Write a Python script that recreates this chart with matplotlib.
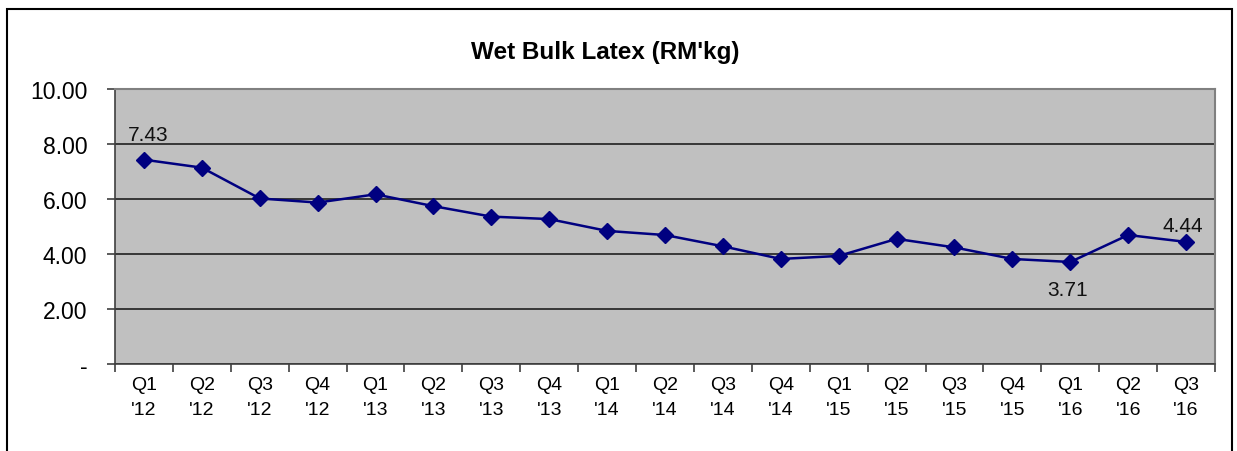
import numpy as np
import matplotlib
matplotlib.use("Agg")
from matplotlib import pyplot as plt
from matplotlib.patches import Rectangle

plt.rcParams['font.family'] = ['Liberation Sans', 'DejaVu Sans']

quarters = ["Q1", "Q2", "Q3", "Q4", "Q1", "Q2", "Q3", "Q4", "Q1", "Q2",
            "Q3", "Q4", "Q1", "Q2", "Q3", "Q4", "Q1", "Q2", "Q3"]
years = ["'12", "'12", "'12", "'12", "'13", "'13", "'13", "'13", "'14", "'14",
         "'14", "'14", "'15", "'15", "'15", "'15", "'16", "'16", "'16"]
price = [7.43, 7.14, 6.02, 5.87, 6.17, 5.74, 5.36, 5.27, 4.84, 4.69,
         4.28, 3.82, 3.93, 4.55, 4.24, 3.82, 3.71, 4.69, 4.44]
labelled = {0: "7.43", 16: "3.71", 18: "4.44"}

fig = plt.figure(figsize=(12.37, 4.52), dpi=100)
W, H = 1237, 452
ax = fig.add_axes([115 / W, 1 - 365 / H, (1215 - 115) / W, (365 - 90) / H])

# outer chart frame
fig.patches.append(Rectangle((7 / W, -0.05), (1232 - 7) / W, 1 - 10 / H + 0.05,
                             transform=fig.transFigure, fill=False,
                             edgecolor='black', linewidth=1.5))

x = np.arange(len(price))
ax.set_facecolor('#c0c0c0')
ax.plot(x, price, color='#000080', linewidth=1.8, marker='D', markersize=8,
        markerfacecolor='#000080', markeredgecolor='#000080', zorder=3)

# offsets of the data labels (points)
offs = {0: (3, 11, 'bottom'), 16: (-2, -13, 'top'), 18: (-2, 5, 'bottom')}
for i, txt in labelled.items():
    dx, dy, va = offs[i]
    ax.annotate(txt, (x[i], price[i]), xytext=(dx, dy), textcoords='offset points',
                ha='center', va=va, fontsize=15, color='#111111')

ax.set_xlim(-0.5, len(price) - 0.5)
ax.set_ylim(0, 10)
ax.set_yticks([0, 2, 4, 6, 8, 10])
ax.set_yticklabels(["-", "2.00", "4.00", "6.00", "8.00", "10.00"], fontsize=16.5)
ax.yaxis.grid(True, color='#202020', linewidth=1.2)
ax.set_axisbelow(True)

ax.set_xticks(x)
ax.set_xticklabels([q + "\n" + y for q, y in zip(quarters, years)], fontsize=14,
                   linespacing=1.55)
ax.set_xticks(np.arange(-0.5, len(price)), minor=True)
ax.tick_params(axis='x', which='major', length=0, pad=9)
ax.tick_params(axis='x', which='minor', length=6, width=1.2, color='#404040')
ax.tick_params(axis='y', length=6, width=1.2, color='#404040', pad=14)

for side in ['top', 'right']:
    ax.spines[side].set_color('#808080')
    ax.spines[side].set_linewidth(1.5)
ax.spines['left'].set_color('#404040')
ax.spines['bottom'].set_color('#404040')
ax.spines['left'].set_linewidth(1.2)
ax.spines['bottom'].set_linewidth(1.2)

fig.text(605 / W, 1 - 53 / H, "Wet Bulk Latex (RM'kg)", ha='center',
         va='center', fontsize=17.5, fontweight='bold')

fig.savefig("out.png", dpi=100)
